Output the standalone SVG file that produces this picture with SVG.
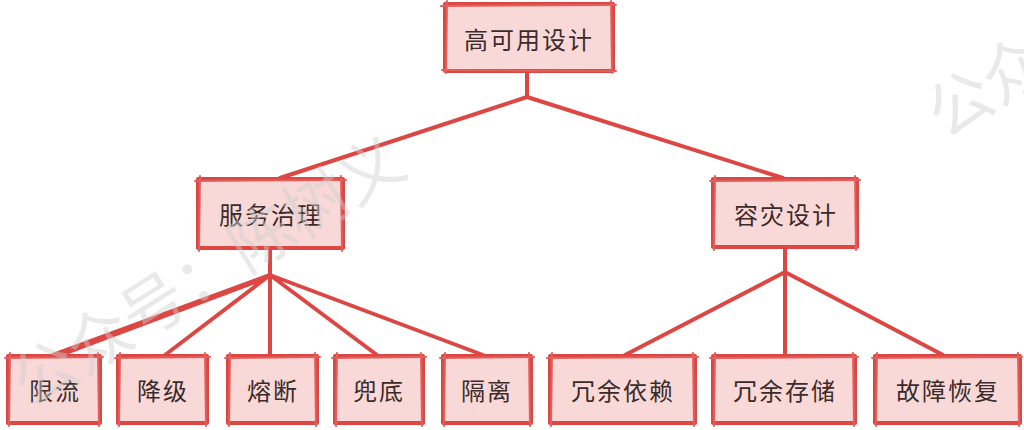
<svg xmlns="http://www.w3.org/2000/svg" width="1024" height="430" viewBox="0 0 1024 430">
  <style>
    .box { fill: #f9d9d8; stroke: #dc4744; stroke-width: 4; stroke-linejoin: round; }
    .sk { fill: none; stroke: #e2605c; stroke-width: 2; stroke-linecap: round; }
    .lbl { font-family: "Noto Sans CJK SC", "Noto Sans", sans-serif; font-size: 24px; fill: #3b2b2b; text-anchor: middle; dominant-baseline: central; letter-spacing: 2px; }
    .conn { fill: none; stroke: #dc4744; stroke-width: 4; stroke-linecap: round; stroke-linejoin: round; }
    .wm { font-family: "Noto Sans CJK SC", sans-serif; font-size: 64px; fill: #cfcfcf; opacity: 0.45; }
  </style>
  <rect width="1024" height="430" fill="#ffffff"/>

  <g id="connectors">
    <path class="conn" d="M527 71 L527 97 M527 97 L280 178 M527 97 L783 178"/>
    <path class="conn" d="M270 248 L270 275 M270 275 L53 355 M268 277 L58 356 M270 275 L165 355 M270 275 L270 355 M270 275 L377 355 M270 275 L483 355"/>
    <path class="conn" d="M785 247 L785 272 M785 272 L625 355 M785 272 L785 355 M785 272 L943 355"/>
  </g>

  <g id="n-root">
    <rect class="box" x="445" y="4" width="168" height="67"/>
    <path class="sk" d="M441 6 L616 5 M447 1 L446 73 M611 1 L612 73 M442 70 L616 71"/>
    <text class="lbl" x="529" y="38">高可用设计</text>
  </g>
  <g id="n-svc">
    <rect class="box" x="198" y="179" width="145" height="69"/>
    <path class="sk" d="M195 181 L346 180 M200 176 L199 251 M341 176 L342 251"/>
    <text class="lbl" x="271" y="213">服务治理</text>
  </g>
  <g id="n-dr">
    <rect class="box" x="713" y="179" width="144" height="68"/>
    <path class="sk" d="M710 181 L860 180 M715 176 L714 250 M855 176 L856 250"/>
    <text class="lbl" x="786" y="213">容灾设计</text>
  </g>

  <g id="n-xl">
    <rect class="box" x="8" y="356" width="92" height="67"/>
    <path class="sk" d="M5 358 L103 357 M10 353 L9 426 M98 353 L99 426"/>
    <text class="lbl" x="55" y="389">限流</text>
  </g>
  <g id="n-jj">
    <rect class="box" x="118" y="356" width="89" height="67"/>
    <path class="sk" d="M115 358 L210 357 M120 353 L119 426 M205 353 L206 426"/>
    <text class="lbl" x="163" y="389">降级</text>
  </g>
  <g id="n-rd">
    <rect class="box" x="228" y="356" width="89" height="67"/>
    <path class="sk" d="M225 358 L320 357 M230 353 L229 426 M315 353 L316 426"/>
    <text class="lbl" x="273" y="389">熔断</text>
  </g>
  <g id="n-dd">
    <rect class="box" x="335" y="356" width="88" height="67"/>
    <path class="sk" d="M332 358 L426 357 M337 353 L336 426 M421 353 L422 426"/>
    <text class="lbl" x="379" y="389">兜底</text>
  </g>
  <g id="n-gl">
    <rect class="box" x="443" y="356" width="88" height="67"/>
    <path class="sk" d="M440 358 L534 357 M445 353 L444 426 M529 353 L530 426"/>
    <text class="lbl" x="487" y="389">隔离</text>
  </g>
  <g id="n-ryyl">
    <rect class="box" x="550" y="356" width="145" height="67"/>
    <path class="sk" d="M547 358 L698 357 M552 353 L551 426 M693 353 L694 426"/>
    <text class="lbl" x="623" y="389">冗余依赖</text>
  </g>
  <g id="n-rycc">
    <rect class="box" x="713" y="356" width="142" height="67"/>
    <path class="sk" d="M710 358 L858 357 M715 353 L714 426 M853 353 L854 426"/>
    <text class="lbl" x="785" y="389">冗余存储</text>
  </g>
  <g id="n-gzhf">
    <rect class="box" x="875" y="356" width="145" height="67"/>
    <path class="sk" d="M872 358 L1022 357 M877 353 L876 426 M1018 353 L1019 426"/>
    <text class="lbl" x="948" y="389">故障恢复</text>
  </g>

  <g id="watermark">
    <text class="wm" transform="translate(30 410) rotate(-32)">公众号：陈树义</text>
    <text class="wm" transform="translate(945 140) rotate(-32)">公众号：陈树义</text>
  </g>
</svg>
